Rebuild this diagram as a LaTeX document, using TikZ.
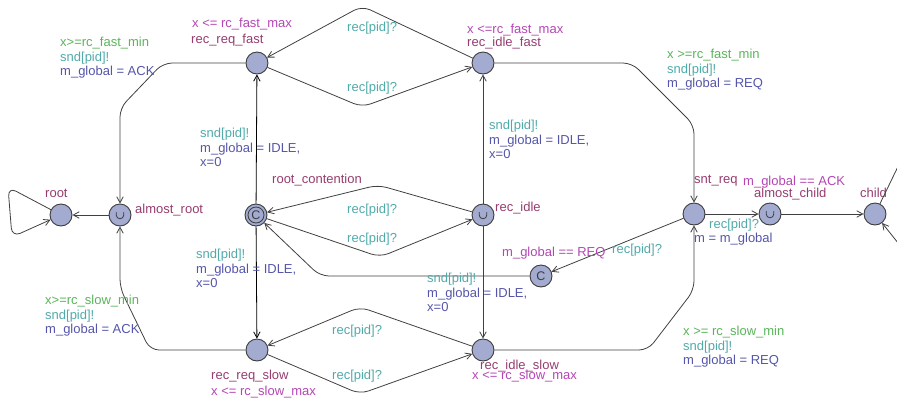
\documentclass[tikz,border=0pt]{standalone}
\usepackage{fontspec}
\setmainfont{Liberation Sans}
\usetikzlibrary{arrows.meta}

\definecolor{locfill}{RGB}{163,172,208}
\definecolor{locline}{RGB}{60,60,60}
\definecolor{transcol}{RGB}{64,64,64}
\definecolor{namecol}{RGB}{150,60,110}
\definecolor{invcol}{RGB}{180,70,180}
\definecolor{guardcol}{RGB}{90,180,90}
\definecolor{synccol}{RGB}{80,170,170}
\definecolor{updcol}{RGB}{85,85,170}
\newcommand{\lblfont}{\fontsize{13}{14.6}\selectfont}

\begin{document}
\begin{tikzpicture}[x=1pt,y=-1pt,
  locnode/.style={circle, minimum size=22pt, inner sep=0pt, fill=locfill, draw=locline, line width=0.9pt},
  urgent/.style={locnode, path picture={\draw[line width=0.8pt, locline]
      ([shift={(-3.8pt,3pt)}]path picture bounding box.center) -- ++(0pt,-3pt)
      arc[start angle=180, end angle=360, radius=3.8pt] -- ++(0pt,3pt);}},
  committed/.style={locnode, font=\fontsize{12.5}{13}\selectfont, text=locline},
  doublecommitted/.style={committed, path picture={\draw[line width=0.8pt, locline]
      (path picture bounding box.center) circle[radius=8pt];}},
  trans/.style={draw=transcol, line width=0.8pt, rounded corners=9pt,
      -{Straight Barb[length=6pt,width=6.5pt]}},
  vtrans/.style={trans, draw=black},
  lbl/.style={font=\lblfont, inner sep=0pt, anchor=west, text height=9pt, text depth=2.5pt},
  locname/.style={lbl, text=namecol},
  invtxt/.style={lbl, text=invcol},
  synctxt/.style={lbl, text=synccol},
  updtxt/.style={lbl, text=updcol},
  multi/.style={font=\lblfont, inner sep=0pt, anchor=north west, align=left}
]
\useasboundingbox (0,0) rectangle (897,400);
\clip (0,0) rectangle (897,400);

% locations
\node[locnode]         (root)  at (61,215)  {};
\node[urgent]          (ar)    at (120,215) {};
\node[locnode]         (rrf)   at (257,63)  {};
\node[locnode]         (rif)   at (483,63)  {};
\node[doublecommitted] (rc)    at (256,215) {C};
\node[urgent]          (ri)    at (483,215) {};
\node[locnode]         (rrs)   at (257,350) {};
\node[locnode]         (ris)   at (483,350) {};
\node[committed]       (cn)    at (541,276) {C};
\node[locnode]         (snt)   at (694,214) {};
\node[urgent]          (ac)    at (770,214) {};
\node[locnode]         (child) at (875,214) {};
\coordinate (childout) at (906,150);
\coordinate (childin)  at (910,258);

% location names and invariants
\node[locname] (nroot) at (45,194)  {root};
\node[locname] (nar)   at (135,210) {almost\_root};
\node[invtxt]  (irrf)  at (192,24)  {x <= rc\_fast\_max};
\node[locname] (nrrf)  at (191,40)  {rec\_req\_fast};
\node[invtxt]  (irif)  at (467,30)  {x <=rc\_fast\_max};
\node[locname] (nrif)  at (467,43)  {rec\_idle\_fast};
\node[locname] (nrc)   at (272,180) {root\_contention};
\node[locname] (nri)   at (495,208) {rec\_idle};
\node[locname] (nsnt)  at (694,180) {snt\_req};
\node[locname] (nac)   at (754,194) {almost\_child};
\node[locname] (nch)   at (860,194) {child};
\node[locname] (nrrs)  at (211,376) {rec\_req\_slow};
\node[invtxt]  (irrs)  at (211,392) {x <= rc\_slow\_max};
\node[locname] (nris)  at (480,366) {rec\_idle\_slow};
\node[invtxt]  (iris)  at (472,376) {x <= rc\_slow\_max};

% transitions
\draw[trans] (root) -- (8,187) -- (12,237) -- (root);
\draw[trans] (ar) -- (root);
\draw[trans] (rrf) -- (163,63) -- (120,108) -- (ar);
\draw[trans] (rrs) -- (150,350) -- (120,288) -- (ar);

\draw[trans] (rif) -- (362,6) -- (rrf);
\draw[trans] (rrf) -- (362,107) -- (rif);
\draw[trans] (ri) -- (378,185) -- (rc);
\draw[trans] (rc) -- (380,257) -- (ri);
\draw[trans] (ris) -- (360,307) -- (rrs);
\draw[trans] (rrs) -- (360,394) -- (ris);

\draw[vtrans] (rc) -- (rrf);
\draw[vtrans] (rc) -- (rrs);
\draw[trans] (ri) -- (rif);
\draw[trans] (ri) -- (ris);

\draw[trans] (rif) -- (632,63) -- (694,125) -- (snt);
\draw[trans] (ris) -- (648,350) -- (694,290) -- (snt);
\draw[trans] (snt) -- (cn);
\draw[trans] (cn) -- (320,276) -- (rc);
\draw[trans] (snt) -- (ac);
\draw[trans] (ac) -- (child);
\draw[trans, -] (child) -- (childout);
\draw[trans] (childin) -- (child);

% transition labels
\node[multi] (l1) at (60,37) {\textcolor{guardcol}{x>=rc\_fast\_min}\\
  \textcolor{synccol}{snd[pid]!}\\ \textcolor{updcol}{m\_global = ACK}};
\node[multi] (l2) at (45,295) {\textcolor{guardcol}{x>=rc\_slow\_min}\\
  \textcolor{synccol}{snd[pid]!}\\ \textcolor{updcol}{m\_global = ACK}};
\node[multi] (l5) at (200,128) {\textcolor{synccol}{snd[pid]!}\\
  \textcolor{updcol}{m\_global = IDLE,}\\ \textcolor{updcol}{x=0}};
\node[multi] (l6) at (196,249) {\textcolor{synccol}{snd[pid]!}\\
  \textcolor{updcol}{m\_global = IDLE,}\\ \textcolor{updcol}{x=0}};
\node[multi] (l7) at (489,120) {\textcolor{synccol}{snd[pid]!}\\
  \textcolor{updcol}{m\_global = IDLE,}\\ \textcolor{updcol}{x=0}};
\node[multi] (l8) at (427,273) {\textcolor{synccol}{snd[pid]!}\\
  \textcolor{updcol}{m\_global = IDLE,}\\ \textcolor{updcol}{x=0}};
\node[multi] (l11) at (667,49) {\textcolor{guardcol}{x >=rc\_fast\_min}\\
  \textcolor{synccol}{snd[pid]!}\\ \textcolor{updcol}{m\_global = REQ}};
\node[multi] (l12) at (683,326) {\textcolor{guardcol}{x >= rc\_slow\_min}\\
  \textcolor{synccol}{snd[pid]!}\\ \textcolor{updcol}{m\_global = REQ}};

\node[synctxt] (s1) at (347,28)  {rec[pid]?};
\node[synctxt] (s2) at (347,88)  {rec[pid]?};
\node[synctxt] (s3) at (347,210) {rec[pid]?};
\node[synctxt] (s4) at (347,239) {rec[pid]?};
\node[synctxt] (s5) at (332,331) {rec[pid]?};
\node[synctxt] (s6) at (332,376) {rec[pid]?};
\node[invtxt]  (g1) at (502,253) {m\_global == REQ};
\node[synctxt] (s7) at (612,250) {rec[pid]?};
\node[invtxt]  (g2) at (743,182) {m\_global == ACK};
\node[synctxt] (s8) at (709,225) {rec[pid]?};
\node[updtxt]  (u1) at (694,239) {m = m\_global};
\end{tikzpicture}
\end{document}
